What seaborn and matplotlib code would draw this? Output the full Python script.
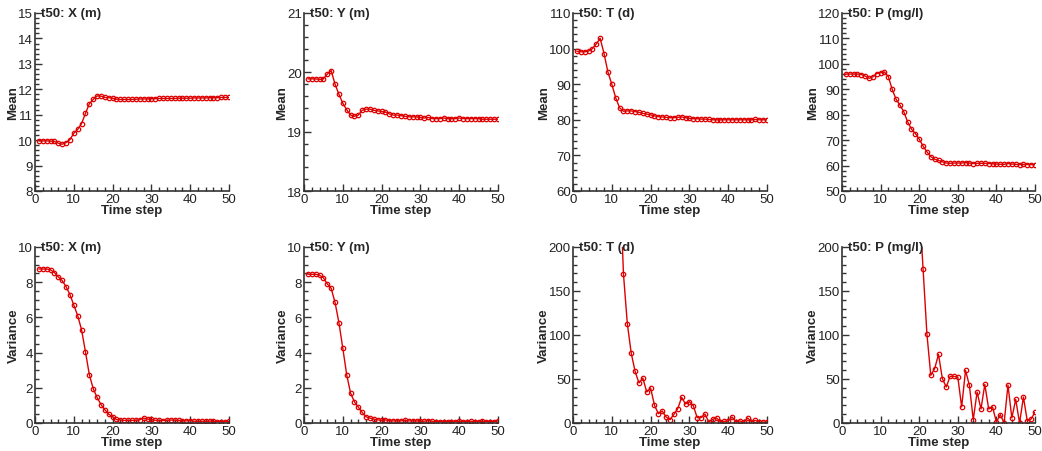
import numpy as np
import pandas as pd
import matplotlib
matplotlib.use("Agg")
import matplotlib.pyplot as plt
from matplotlib.ticker import MultipleLocator
import seaborn as sns

sns.set_style("ticks")
plt.rcParams['font.family'] = ['Liberation Sans', 'DejaVu Sans']

steps = list(range(1, 51))

mean_x = [9.97, 9.97, 9.97, 9.96, 9.95, 9.88, 9.84, 9.90, 10.02, 10.27,
          10.42, 10.65, 11.05, 11.43, 11.60, 11.74, 11.73, 11.68, 11.67, 11.65,
          11.61, 11.60, 11.60, 11.60, 11.60, 11.61, 11.62, 11.62, 11.62, 11.63,
          11.63, 11.64, 11.64, 11.64, 11.64, 11.64, 11.65, 11.65, 11.65, 11.65,
          11.66, 11.66, 11.66, 11.66, 11.67, 11.67, 11.67, 11.68, 11.68, 11.68]

mean_y = [19.89, 19.89, 19.89, 19.88, 19.89, 19.97, 20.03, 19.80, 19.63, 19.48,
          19.37, 19.28, 19.26, 19.28, 19.36, 19.38, 19.38, 19.36, 19.35, 19.34,
          19.33, 19.30, 19.28, 19.28, 19.27, 19.26, 19.25, 19.25, 19.25, 19.24,
          19.23, 19.24, 19.22, 19.22, 19.22, 19.23, 19.22, 19.22, 19.22, 19.23,
          19.22, 19.22, 19.22, 19.22, 19.22, 19.21, 19.21, 19.21, 19.21, 19.21]

mean_t = [99.2, 99.1, 99.1, 99.3, 100.0, 101.3, 102.9, 98.6, 93.4, 90.0,
          86.2, 83.4, 82.4, 82.5, 82.5, 82.3, 82.1, 81.8, 81.6, 81.4,
          81.1, 80.9, 80.8, 80.7, 80.6, 80.6, 80.7, 80.8, 80.6, 80.4,
          80.3, 80.3, 80.2, 80.2, 80.1, 80.0, 80.0, 80.0, 80.0, 80.0,
          80.0, 80.0, 80.0, 80.0, 80.0, 80.0, 80.1, 80.0, 80.0, 80.0]

mean_p = [96.0, 96.0, 96.0, 96.0, 95.8, 95.2, 94.3, 94.9, 96.2, 96.5,
          96.8, 95.0, 90.0, 86.1, 83.8, 81.2, 77.2, 74.3, 72.6, 70.4,
          67.7, 65.4, 63.5, 62.5, 62.0, 61.5, 61.0, 60.9, 61.0, 61.0,
          61.0, 61.2, 61.0, 60.8, 60.9, 60.9, 60.9, 60.8, 60.7, 60.6,
          60.5, 60.5, 60.8, 60.6, 60.5, 60.4, 60.5, 60.4, 60.4, 60.3]

var_x = [8.75, 8.75, 8.75, 8.70, 8.55, 8.30, 8.10, 7.75, 7.30, 6.70,
         6.10, 5.30, 4.05, 2.75, 1.95, 1.45, 1.05, 0.75, 0.50, 0.35,
         0.20, 0.17, 0.15, 0.15, 0.15, 0.15, 0.18, 0.28, 0.22, 0.20,
         0.15, 0.15, 0.14, 0.15, 0.17, 0.16, 0.15, 0.13, 0.12, 0.14,
         0.10, 0.10, 0.10, 0.10, 0.11, 0.09, 0.08, 0.08, 0.08, 0.09]

var_y = [8.45, 8.45, 8.45, 8.40, 8.25, 7.90, 7.65, 6.85, 5.70, 4.25,
         2.75, 1.70, 1.20, 0.90, 0.60, 0.35, 0.28, 0.22, 0.18, 0.15,
         0.18, 0.12, 0.12, 0.12, 0.12, 0.15, 0.12, 0.12, 0.12, 0.10,
         0.10, 0.14, 0.10, 0.08, 0.08, 0.08, 0.08, 0.08, 0.08, 0.10,
         0.08, 0.08, 0.10, 0.08, 0.08, 0.10, 0.08, 0.08, 0.08, 0.12]

var_t = [620, 615, 610, 600, 590, 575, 560, 520, 470, 410,
         350, 290, 169.7, 112.9, 79.5, 58.7, 45.5, 51.1, 35.2, 39.8,
         20.1, 10.6, 13.6, 6.8, 3.8, 9.8, 16.3, 29.2, 21.6, 24.2,
         19.7, 6.1, 6.1, 10.2, 1.1, 4.2, 5.7, 1.5, 1.9, 2.3,
         6.8, 1.5, 2.3, 0.8, 5.7, 1.5, 3.0, 0.8, 1.1, 1.1]

var_p = [700, 700, 700, 700, 700, 700, 700, 695, 690, 680,
         670, 650, 620, 580, 540, 480, 420, 360, 300, 250,
         175.4, 101.1, 54.2, 61.7, 78.0, 50.4, 40.9, 53.0, 53.0, 52.3,
         18.2, 59.8, 42.8, 3.8, 35.2, 15.9, 43.9, 15.9, 18.2, 1.1,
         9.5, 0.0, 43.2, 5.7, 26.9, 0.0, 29.5, 2.3, 4.5, 12.5]

titles = ["t50: X (m)", "t50: Y (m)", "t50: T (d)", "t50: P (mg/l)"]
mean_series = [mean_x, mean_y, mean_t, mean_p]
var_series = [var_x, var_y, var_t, var_p]
mean_lims = [(8, 15), (18, 21), (60, 110), (50, 120)]
mean_major = [1, 1, 10, 10]
mean_minor = [0.2, 0.2, 2, 2]
var_lims = [(0, 10), (0, 10), (0, 200), (0, 200)]
var_major = [2, 2, 50, 50]
var_minor = [0.5, 0.5, 10, 10]

RED = "#dd0000"
W, H = 1042, 452
fig = plt.figure(figsize=(W / 100, H / 100), dpi=100)

lefts = [35, 304, 573, 842]
widths = [194, 194, 194, 193]
rows = [(14, 192), (248, 424)]

def style_axis(ax, ylim, major, minor, title, ylabel):
    ax.set_xlim(0, 50)
    ax.set_ylim(*ylim)
    ax.xaxis.set_major_locator(MultipleLocator(10))
    ax.xaxis.set_minor_locator(MultipleLocator(2))
    ax.yaxis.set_major_locator(MultipleLocator(major))
    ax.yaxis.set_minor_locator(MultipleLocator(minor))
    ax.tick_params(which='both', direction='in', color='#333333', width=1,
                   labelsize=9.5, labelcolor='#222222', pad=1.5)
    ax.tick_params(which='major', length=5)
    ax.tick_params(which='minor', length=3)
    for s in ['top', 'right']:
        ax.spines[s].set_visible(False)
    for s in ['left', 'bottom']:
        ax.spines[s].set_color('#333333')
        ax.spines[s].set_linewidth(1.2)
    ax.set_xlabel("Time step", fontsize=9.5, fontweight='bold', labelpad=-1)
    ax.set_ylabel(ylabel, fontsize=9.5, fontweight='bold', labelpad=-1)
    ax.text(0.03, 1.0, title, transform=ax.transAxes, ha='left', va='center',
            fontsize=9.5, fontweight='bold', clip_on=False)

for r, (top, bottom) in enumerate(rows):
    for c in range(4):
        rect = [lefts[c] / W, 1 - bottom / H, widths[c] / W, (bottom - top) / H]
        ax = fig.add_axes(rect)
        vals = mean_series[c] if r == 0 else var_series[c]
        df = pd.DataFrame({"step": steps, "value": vals})
        sns.lineplot(data=df, x="step", y="value", ax=ax, color=RED,
                     linewidth=1.0, marker='o', markersize=3.2,
                     markerfacecolor='none', markeredgecolor=RED,
                     markeredgewidth=0.9)
        if r == 0:
            style_axis(ax, mean_lims[c], mean_major[c], mean_minor[c], titles[c], "Mean")
        else:
            style_axis(ax, var_lims[c], var_major[c], var_minor[c], titles[c], "Variance")

fig.savefig("out.png", dpi=100)
